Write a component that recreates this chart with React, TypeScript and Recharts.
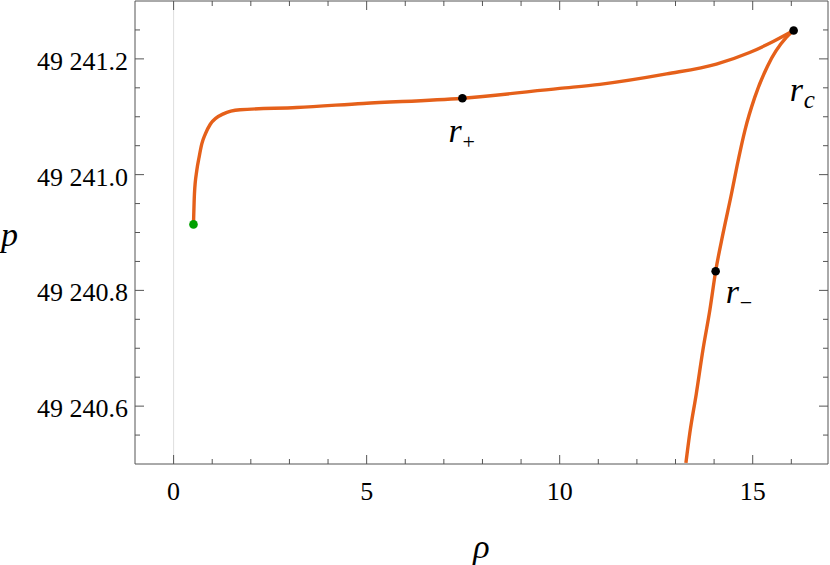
import { ComposedChart, Line, Scatter, XAxis, YAxis, ReferenceLine } from 'recharts';

// upper branch, from the green start point up to r_c
const upperBranch = [
    { x: 0.515, y: 49240.914 },
    { x: 0.54, y: 49240.967 },
    { x: 0.6, y: 49241.007 },
    { x: 0.66, y: 49241.03 },
    { x: 0.73, y: 49241.053 },
    { x: 0.82, y: 49241.07 },
    { x: 0.95, y: 49241.087 },
    { x: 1.29, y: 49241.105 },
    { x: 1.72, y: 49241.112 },
    { x: 3.19, y: 49241.116 },
    { x: 4.91, y: 49241.123 },
    { x: 7.48, y: 49241.132 },
    { x: 10.0, y: 49241.149 },
    { x: 11.04, y: 49241.156 },
    { x: 12.77, y: 49241.174 },
    { x: 14.06, y: 49241.191 },
    { x: 14.92, y: 49241.211 },
    { x: 15.53, y: 49241.23 },
    { x: 16.06, y: 49241.249 },
];

// lower branch, from the bottom of the frame up to r_c
const lowerBranch = [
    { x: 13.27, y: 49240.502 },
    { x: 13.37, y: 49240.553 },
    { x: 13.54, y: 49240.622 },
    { x: 13.71, y: 49240.697 },
    { x: 13.89, y: 49240.766 },
    { x: 14.04, y: 49240.833 },
    { x: 14.23, y: 49240.898 },
    { x: 14.45, y: 49240.967 },
    { x: 14.6, y: 49241.017 },
    { x: 14.8, y: 49241.077 },
    { x: 15.05, y: 49241.133 },
    { x: 15.38, y: 49241.187 },
    { x: 15.87, y: 49241.237 },
    { x: 16.06, y: 49241.249 },
];

const startPoint = [{ x: 0.515, y: 49240.914, name: '' }];

const markedPoints = [
    { x: 7.48, y: 49241.132, name: '+' },
    { x: 14.04, y: 49240.833, name: '−' },
    { x: 16.06, y: 49241.249, name: 'c' },
];

const xTicks = [0, 1, 2, 3, 4, 5, 6, 7, 8, 9, 10, 11, 12, 13, 14, 15, 16];
const yTicks = [
    49240.55, 49240.6, 49240.65, 49240.7, 49240.75, 49240.8, 49240.85, 49240.9, 49240.95,
    49241.0, 49241.05, 49241.1, 49241.15, 49241.2, 49241.25,
];

const ORANGE = '#e5601a';
const FRAME = '#555';

const isMajorX = (v: number) => v % 5 === 0;
const isMajorY = (v: number) => Math.abs(v * 5 - Math.round(v * 5)) < 1e-6;
const fmtY = (v: number) => {
    const s = v.toFixed(1);
    return s.slice(0, 2) + ' ' + s.slice(2);
};

const FrameTick = (props: any) => {
    const { x, y, payload, side } = props;
    const v = payload.value as number;
    if (side === 'bottom' || side === 'top') {
        const len = isMajorX(v) ? 9 : 5;
        const dir = side === 'bottom' ? -1 : 1;
        return (
            <g>
                <line x1={x} y1={y} x2={x} y2={y + dir * len} stroke={FRAME} strokeWidth={1} />
                {side === 'bottom' && isMajorX(v) && (
                    <text x={x} y={y + 36} textAnchor="middle" fontSize={26} fill="#000">
                        {String(v)}
                    </text>
                )}
            </g>
        );
    }
    const len = isMajorY(v) ? 9 : 5;
    const dir = side === 'left' ? 1 : -1;
    return (
        <g>
            <line x1={x} y1={y} x2={x + dir * len} y2={y} stroke={FRAME} strokeWidth={1} />
            {side === 'left' && isMajorY(v) && (
                <text x={x - 7} y={y + 11} textAnchor="end" fontSize={26} fill="#000">
                    {fmtY(v)}
                </text>
            )}
        </g>
    );
};

// label placement relative to each marked dot
const labelOffset: Record<string, { dx: number, dy: number }> = {
    '+': { dx: -14, dy: 44 },
    '−': { dx: 10, dy: 32 },
    'c': { dx: -4, dy: 70 },
};

const MarkedDot = (props: any) => {
    const { cx, cy, payload } = props;
    const off = labelOffset[payload.name];
    const sub = payload.name as string;
    return (
        <g>
            <circle cx={cx} cy={cy} r={4.3} fill="#000" />
            <text x={cx + off.dx} y={cy + off.dy} fontSize={34} fontStyle="italic" fill="#000">r</text>
            <text x={cx + off.dx + 14} y={cy + off.dy + 7} fontSize={sub === 'c' ? 25 : 22}
                fontStyle={sub === 'c' ? 'italic' : 'normal'} fill="#000">
                {sub}
            </text>
        </g>
    );
};

const StartDot = (props: any) => <circle cx={props.cx} cy={props.cy} r={4.3} fill="#00a000" />;

export default function App() {
    return (
        <div style={{ position: 'absolute', left: 0, top: 0, background: '#fff', fontFamily: "'Times New Roman', 'Liberation Serif', Tinos, serif" }}>
            <ComposedChart width={830} height={565} margin={{ top: 0, right: 0, left: 0, bottom: 0 }}
                style={{ fontFamily: "'Times New Roman', 'Liberation Serif', Tinos, serif" }}>
                <XAxis
                    xAxisId="main"
                    dataKey="x"
                    type="number"
                    domain={[-1, 16.95]}
                    allowDataOverflow
                    ticks={xTicks}
                    interval={0}
                    height={101}
                    tickSize={0}
                    tickMargin={0}
                    tickLine={false}
                    axisLine={{ stroke: FRAME }}
                    tick={<FrameTick side="bottom" />}
                    label={(p: any) => (
                        <text x={p.viewBox.x + p.viewBox.width / 2} y={p.viewBox.y + 94} textAnchor="middle"
                            fontSize={34} fontStyle="italic" fill="#000">ρ</text>
                    )}
                />
                <XAxis
                    xAxisId="top"
                    orientation="top"
                    dataKey="x"
                    type="number"
                    domain={[-1, 16.95]}
                    allowDataOverflow
                    ticks={xTicks}
                    interval={0}
                    height={1}
                    tickSize={0}
                    tickMargin={0}
                    tickLine={false}
                    axisLine={{ stroke: FRAME }}
                    tick={<FrameTick side="top" />}
                />
                <YAxis
                    yAxisId="main"
                    dataKey="y"
                    type="number"
                    domain={[49240.5, 49241.3]}
                    allowDataOverflow
                    ticks={yTicks}
                    interval={0}
                    width={135}
                    tickSize={0}
                    tickMargin={0}
                    tickLine={false}
                    axisLine={{ stroke: FRAME }}
                    tick={<FrameTick side="left" />}
                    label={(p: any) => (
                        <text x={p.viewBox.x + 1} y={p.viewBox.y + p.viewBox.height / 2 + 13}
                            fontSize={34} fontStyle="italic" fill="#000">p</text>
                    )}
                />
                <YAxis
                    yAxisId="right"
                    orientation="right"
                    dataKey="y"
                    type="number"
                    domain={[49240.5, 49241.3]}
                    allowDataOverflow
                    ticks={yTicks}
                    interval={0}
                    width={2}
                    tickSize={0}
                    tickMargin={0}
                    tickLine={false}
                    axisLine={{ stroke: FRAME }}
                    tick={<FrameTick side="right" />}
                />
                <ReferenceLine xAxisId="main" yAxisId="main" x={0} stroke="#dedede" strokeWidth={1} />
                <Line xAxisId="main" yAxisId="main" data={upperBranch} dataKey="y" type="monotone"
                    stroke={ORANGE} strokeWidth={3.4} dot={false} isAnimationActive={false} />
                <Line xAxisId="main" yAxisId="main" data={lowerBranch} dataKey="y" type="monotone"
                    stroke={ORANGE} strokeWidth={3.4} dot={false} isAnimationActive={false} />
                <Scatter xAxisId="main" yAxisId="main" data={startPoint} dataKey="y"
                    shape={<StartDot />} isAnimationActive={false} />
                <Scatter xAxisId="main" yAxisId="main" data={markedPoints} dataKey="y"
                    shape={<MarkedDot />} isAnimationActive={false} />
            </ComposedChart>
        </div>
    );
}
